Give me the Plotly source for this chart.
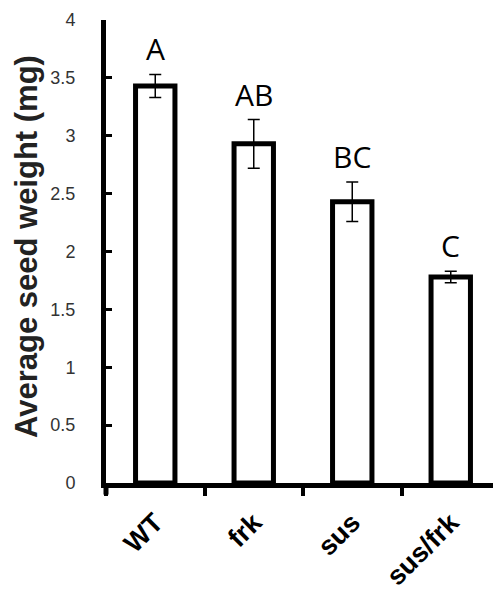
import plotly.graph_objects as go

categories = ["WT", "frk", "sus", "sus/frk"]
means = [3.43, 2.93, 2.43, 1.78]
errors = [0.10, 0.21, 0.17, 0.05]
letters = ["A", "AB", "BC", "C"]
y_ticks = [0, 0.5, 1, 1.5, 2, 2.5, 3, 3.5, 4]
y_tick_labels = ["0", "0.5", "1", "1.5", "2", "2.5", "3", "3.5", "4"]

fig = go.Figure()
fig.add_trace(go.Bar(
    x=categories, y=means,
    width=0.4,
    marker=dict(color="white", line=dict(color="black", width=5)),
    error_y=dict(type="data", array=errors, visible=True, color="black",
                 thickness=1.5, width=6),
))

for c, m, e, t in zip(categories, means, errors, letters):
    fig.add_annotation(x=c, y=m + e, text=t, showarrow=False, yanchor="bottom",
                       yshift=3, font=dict(family="Open Sans", size=30, color="black"))

fig.add_annotation(xref="paper", yref="paper", x=-0.2, y=0.51,
                   text="<b>Average seed weight (mg)</b>", textangle=-90,
                   showarrow=False, xanchor="center", yanchor="middle",
                   font=dict(family="Liberation Sans", size=31, color="#222"))

# y-axis line overshoots slightly below the x-axis, as in the reference
fig.add_shape(type="line", xref="paper", yref="paper", x0=0, x1=0, y0=0, y1=-0.025,
              line=dict(color="black", width=5))

fig.update_layout(
    width=493, height=597,
    margin=dict(l=98, r=1, t=12, b=122, autoexpand=False),
    plot_bgcolor="white", paper_bgcolor="white",
    showlegend=False,
    bargap=0.6,
)
fig.update_xaxes(
    automargin=False,
    showline=True, linecolor="black", linewidth=5,
    ticks="outside", tickson="boundaries", ticklen=8, tickwidth=4, tickcolor="black",
    tickangle=-45, ticklabelstandoff=8,
    tickfont=dict(family="Liberation Sans", size=27, color="black", weight="bold"),
    showgrid=False,
)
fig.update_yaxes(
    automargin=False,
    range=[0, 4], tickvals=y_ticks, ticktext=y_tick_labels,
    showline=True, linecolor="black", linewidth=5,
    ticks="inside", ticklen=6, tickwidth=3, tickcolor="black",
    ticklabelstandoff=22,
    tickfont=dict(family="Liberation Sans", size=18, color="#333"),
    showgrid=False, zeroline=False,
)

fig.write_html("out.html")
